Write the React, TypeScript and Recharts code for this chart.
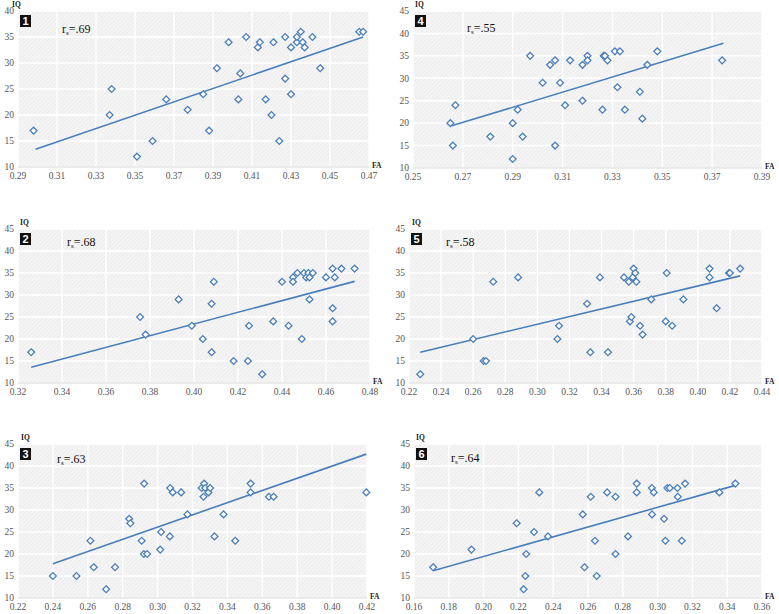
import { ScatterChart, Scatter, XAxis, YAxis, CartesianGrid, ReferenceLine } from 'recharts';

// [FA, IQ] pairs
const panel1Points = [
  [0.298, 17], [0.338, 25], [0.337, 20], [0.351, 12], [0.359, 15], [0.366, 23], [0.377, 21],
  [0.385, 24], [0.388, 17], [0.392, 29], [0.398, 34], [0.403, 23], [0.404, 28], [0.407, 35],
  [0.413, 33], [0.414, 34], [0.417, 23], [0.42, 20], [0.421, 34], [0.424, 15], [0.427, 35],
  [0.427, 27], [0.43, 33], [0.43, 24], [0.433, 34], [0.433, 35], [0.435, 36], [0.436, 34],
  [0.437, 33], [0.441, 35], [0.445, 29], [0.465, 36], [0.467, 36],
];
const panel2Points = [
  [0.326, 17], [0.3755, 25], [0.378, 21], [0.393, 29], [0.399, 23], [0.404, 20], [0.408, 17],
  [0.408, 28], [0.409, 33], [0.418, 15], [0.4245, 15], [0.425, 23], [0.431, 12], [0.436, 24],
  [0.44, 33], [0.443, 23], [0.445, 34], [0.445, 33], [0.447, 35], [0.449, 20], [0.45, 35],
  [0.451, 34], [0.452, 35], [0.4525, 34], [0.4525, 29], [0.454, 35], [0.46, 34], [0.463, 27],
  [0.463, 24], [0.463, 36], [0.464, 34], [0.467, 36], [0.473, 36],
];
const panel3Points = [
  [0.24, 15], [0.2535, 15], [0.2615, 23], [0.2634, 17], [0.2705, 12], [0.2756, 17], [0.2837, 28],
  [0.2844, 27], [0.2909, 23], [0.2923, 36], [0.2921, 20], [0.294, 20], [0.3015, 21], [0.302, 25],
  [0.307, 24], [0.3072, 35], [0.3087, 34], [0.3135, 34], [0.3171, 29], [0.3252, 35], [0.3263, 33],
  [0.3267, 36], [0.3273, 35], [0.3292, 34], [0.3301, 35], [0.3326, 24], [0.3378, 29], [0.3445, 23],
  [0.3533, 36], [0.3533, 34], [0.3638, 33], [0.3665, 33], [0.4196, 34],
];
const panel4Points = [
  [0.265, 20], [0.266, 15], [0.267, 24], [0.281, 17], [0.29, 12], [0.29, 20], [0.292, 23],
  [0.294, 17], [0.297, 35], [0.302, 29], [0.305, 33], [0.307, 34], [0.307, 15], [0.309, 29],
  [0.311, 24], [0.313, 34], [0.318, 33], [0.318, 25], [0.32, 35], [0.32, 34], [0.326, 23],
  [0.3265, 35], [0.327, 35], [0.328, 34], [0.331, 36], [0.333, 36], [0.332, 28], [0.335, 23],
  [0.341, 27], [0.342, 21], [0.344, 33], [0.348, 36], [0.374, 34],
];
const panel5Points = [
  [0.227, 12], [0.26, 20], [0.2665, 15], [0.268, 15], [0.2725, 33], [0.288, 34], [0.3125, 20],
  [0.3135, 23], [0.331, 28], [0.333, 17], [0.339, 34], [0.344, 17], [0.354, 34], [0.357, 33],
  [0.3577, 24], [0.3586, 25], [0.3595, 34], [0.36, 36], [0.361, 35], [0.3617, 33], [0.364, 23],
  [0.3656, 21], [0.371, 29], [0.38, 24], [0.3806, 35], [0.384, 23], [0.391, 29], [0.4073, 36],
  [0.4073, 34], [0.4117, 27], [0.4194, 35], [0.42, 35], [0.4264, 36],
];
const panel6Points = [
  [0.171, 17], [0.193, 21], [0.219, 27], [0.223, 12], [0.224, 15], [0.2245, 20], [0.229, 25],
  [0.232, 34], [0.237, 24], [0.257, 29], [0.258, 17], [0.2616, 33], [0.264, 23], [0.265, 15],
  [0.271, 34], [0.2758, 33], [0.2758, 20], [0.283, 24], [0.288, 36], [0.288, 34], [0.2967, 35],
  [0.2968, 29], [0.2978, 34], [0.3037, 28], [0.3045, 23], [0.3056, 35], [0.307, 35], [0.3114, 35],
  [0.3116, 33], [0.3139, 23], [0.3158, 36], [0.3355, 34], [0.3447, 36],
];

// fitted line ends as drawn
const panel1Trend = [[0.299, 13.4], [0.467, 35.0]];
const panel2Trend = [[0.326, 13.6], [0.473, 33.1]];
const panel3Trend = [[0.24, 17.8], [0.4196, 42.7]];
const panel4Trend = [[0.2655, 19.4], [0.3745, 37.8]];
const panel5Trend = [[0.227, 17.0], [0.4264, 34.35]];
const panel6Trend = [[0.171, 16.2], [0.3447, 35.6]];

const rsValues = ['.69', '.68', '.63', '.55', '.58', '.64'];

const panel1XTicks = [0.29, 0.31, 0.33, 0.35, 0.37, 0.39, 0.41, 0.43, 0.45, 0.47];
const panel2XTicks = [0.32, 0.34, 0.36, 0.38, 0.4, 0.42, 0.44, 0.46, 0.48];
const panel3XTicks = [0.22, 0.24, 0.26, 0.28, 0.3, 0.32, 0.34, 0.36, 0.38, 0.4, 0.42];
const panel4XTicks = [0.25, 0.27, 0.29, 0.31, 0.33, 0.35, 0.37, 0.39];
const panel5XTicks = [0.22, 0.24, 0.26, 0.28, 0.3, 0.32, 0.34, 0.36, 0.38, 0.4, 0.42, 0.44];
const panel6XTicks = [0.16, 0.18, 0.2, 0.22, 0.24, 0.26, 0.28, 0.3, 0.32, 0.34, 0.36];

const yTicks40 = [10, 15, 20, 25, 30, 35, 40];
const yTicks45 = [10, 15, 20, 25, 30, 35, 40, 45];

const BLUE = '#4a7ebb';
const SERIF = '"Liberation Serif", "Times New Roman", serif';
const TICK_SIZE = 9.5;
const TICK_COLOR = '#555';

const toPoints = (pairs: number[][]) => pairs.map(([fa, iq]) => ({ fa, iq }));

const Diamond = (props: any) => {
  const { cx, cy } = props;
  if (cx == null || cy == null) return null;
  const r = 3.4;
  return (
    <path
      d={`M${cx},${cy - r}L${cx + r},${cy}L${cx},${cy + r}L${cx - r},${cy}Z`}
      fill="#fff"
      stroke={BLUE}
      strokeWidth={1.3}
    />
  );
};

const XTick = (props: any) => {
  const { x, y, payload } = props;
  return (
    <text x={x} y={y} dy="0.71em" textAnchor="middle" fontFamily={SERIF} fontSize={TICK_SIZE} fill={TICK_COLOR}>
      {Number(payload.value).toFixed(2)}
    </text>
  );
};

const YTick = (props: any) => {
  const { x, y, payload } = props;
  return (
    <text x={x} y={y} dy="0.35em" textAnchor="end" fontFamily={SERIF} fontSize={TICK_SIZE} fill={TICK_COLOR}>
      {payload.value}
    </text>
  );
};

// IQ title, black number box and the r_s note, placed from the y axis box
const CornerLabels = (props: any) => {
  const { viewBox, num, rs, rsDx, rsDy, iqDx } = props;
  const left = viewBox.x + viewBox.width;
  const top = viewBox.y;
  return (
    <g>
      <text x={left + iqDx} y={top - 4} fontFamily={SERIF} fontWeight="bold" fontSize={7.5} fill="#222">
        IQ
      </text>
      <rect x={left + 2} y={top + 4} width={11} height={12} fill="#111" />
      <text
        x={left + 7.5}
        y={top + 14.2}
        textAnchor="middle"
        fontFamily='"Liberation Sans", Arial, sans-serif'
        fontWeight="bold"
        fontSize={11}
        fill="#fff"
      >
        {num}
      </text>
      <text x={left + rsDx} y={top + rsDy} fontFamily={SERIF} fontSize={12} fill="#111">
        r<tspan fontSize={7} dy={2}>s</tspan>
        <tspan dy={-2}>={rs}</tspan>
      </text>
    </g>
  );
};

const FALabel = (props: any) => {
  const { viewBox } = props;
  return (
    <text
      x={viewBox.x + viewBox.width + 3}
      y={viewBox.y + 1}
      fontFamily={SERIF}
      fontWeight="bold"
      fontSize={7.5}
      fill="#222"
    >
      FA
    </text>
  );
};

type PanelProps = {
  id: number;
  points: number[][];
  trend: number[][];
  xTicks: number[];
  yTicks: number[];
  plot: { l: number; r: number; t: number; b: number };
  rsDx: number;
  rsDy: number;
  iqDx: number;
};

const PAD_L = 20;
const PAD_T = 15;
const PAD_R = 18;
const PAD_B = 20;

function Panel({ id, points, trend, xTicks, yTicks, plot, rsDx, rsDy, iqDx }: PanelProps) {
  const width = plot.r - plot.l + PAD_L + PAD_R;
  const height = plot.b - plot.t + PAD_T + PAD_B;
  const patternId = `hatch${id}`;
  return (
    <div style={{ position: 'absolute', left: plot.l - PAD_L, top: plot.t - PAD_T }}>
      <ScatterChart width={width} height={height} margin={{ top: PAD_T, right: PAD_R, bottom: 0, left: 0 }}>
        <defs>
          <pattern id={patternId} width="3" height="3" patternUnits="userSpaceOnUse" patternTransform="rotate(45)">
            <rect width="3" height="3" fill="#f5f5f5" />
            <line x1="0" y1="0" x2="0" y2="3" stroke="#e4e4e4" strokeWidth="1" />
          </pattern>
        </defs>
        <CartesianGrid fill={`url(#${patternId})`} stroke="#ffffff" strokeWidth={1.4} />
        <XAxis
          type="number"
          dataKey="fa"
          domain={[xTicks[0], xTicks[xTicks.length - 1]]}
          ticks={xTicks}
          interval={0}
          tick={<XTick />}
          tickSize={0}
          tickMargin={5}
          axisLine={{ stroke: '#d9d9d9' }}
          height={PAD_B}
          label={<FALabel />}
        />
        <YAxis
          type="number"
          dataKey="iq"
          domain={[yTicks[0], yTicks[yTicks.length - 1]]}
          ticks={yTicks}
          interval={0}
          tick={<YTick />}
          tickSize={0}
          tickMargin={4}
          axisLine={false}
          width={PAD_L}
          label={<CornerLabels num={id} rs={rsValues[[0, 0, 1, 2, 3, 4, 5][id]]} rsDx={rsDx} rsDy={rsDy} iqDx={iqDx} />}
        />
        <ReferenceLine
          segment={[
            { x: trend[0][0], y: trend[0][1] },
            { x: trend[1][0], y: trend[1][1] },
          ]}
          stroke={BLUE}
          strokeWidth={1.6}
          ifOverflow="visible"
        />
        <Scatter data={toPoints(points)} shape={<Diamond />} isAnimationActive={false} />
      </ScatterChart>
    </div>
  );
}

export default function App() {
  return (
    <div style={{ position: 'absolute', left: 0, top: 0, width: 779, height: 614, background: '#fff', overflow: 'hidden' }}>
      <Panel id={1} points={panel1Points} trend={panel1Trend} xTicks={panel1XTicks} yTicks={yTicks40}
        plot={{ l: 18, r: 369, t: 11, b: 167 }} rsDx={44} rsDy={22} iqDx={-6} />
      <Panel id={4} points={panel4Points} trend={panel4Trend} xTicks={panel4XTicks} yTicks={yTicks45}
        plot={{ l: 413, r: 762, t: 11, b: 168 }} rsDx={54} rsDy={21} iqDx={2} />
      <Panel id={2} points={panel2Points} trend={panel2Trend} xTicks={panel2XTicks} yTicks={yTicks45}
        plot={{ l: 18, r: 370, t: 229, b: 383 }} rsDx={49} rsDy={17} iqDx={2} />
      <Panel id={5} points={panel5Points} trend={panel5Trend} xTicks={panel5XTicks} yTicks={yTicks45}
        plot={{ l: 409, r: 762, t: 229, b: 383 }} rsDx={37} rsDy={17} iqDx={3} />
      <Panel id={3} points={panel3Points} trend={panel3Trend} xTicks={panel3XTicks} yTicks={yTicks45}
        plot={{ l: 18, r: 367, t: 444, b: 598 }} rsDx={39} rsDy={19} iqDx={3} />
      <Panel id={6} points={panel6Points} trend={panel6Trend} xTicks={panel6XTicks} yTicks={yTicks45}
        plot={{ l: 414, r: 762, t: 444, b: 598 }} rsDx={37} rsDy={18} iqDx={2} />
    </div>
  );
}
